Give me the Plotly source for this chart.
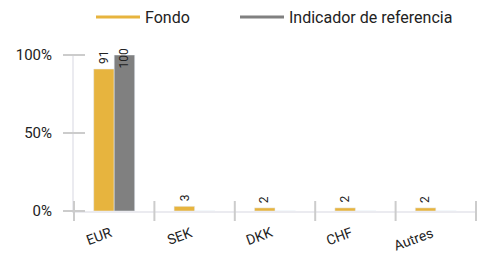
import plotly.graph_objects as go

categories = ["EUR", "SEK", "DKK", "CHF", "Autres"]
fondo = [91, 3, 2, 2, 2]
indicador = [100, 0, 0, 0, 0]
y_ticks = [0, 50, 100]
y_tick_labels = ["0%", "50%", "100%"]
series_names = ["Fondo", "Indicador de referencia"]

ORANGE = "#E7B43E"
GRAY = "#808080"
TXT = "#222222"

# page body adds an 8px offset; figure is sized to fit the 490x259 window
W, H = 482, 251
ML, MR, MT, MB = 66, 14, 47, 48
PW, PH = W - ML - MR, H - MT - MB  # plot area in px
YMAX = 100

fig = go.Figure()
fig.add_trace(go.Bar(x=categories, y=fondo, marker_color=ORANGE, showlegend=False))
fig.add_trace(go.Bar(x=categories, y=indicador, marker_color=GRAY, showlegend=False))
for name, col, lg in zip(series_names, [ORANGE, GRAY], ["legend", "legend2"]):
    fig.add_trace(go.Scatter(x=[None], y=[None], mode="lines", name=name, legend=lg,
                             line=dict(color=col, width=3)))

BARGAP = 0.49
cat_px = PW / len(categories)
bar_px = cat_px * (1 - BARGAP) / 2
annotations = []
LABEL_TOP_LIMIT = 8  # px above plot area
for series, shift in ((fondo, -bar_px / 2), (indicador, bar_px / 2)):
    for cat, v in zip(categories, series):
        if not v:
            continue
        s = str(v)
        gap = 4
        label_h = 6.9 * len(s)
        top_px = v / YMAX * PH + gap + label_h
        if top_px > PH + LABEL_TOP_LIMIT:
            annotations.append(dict(x=cat, y=1 + LABEL_TOP_LIMIT / PH, xref="x", yref="paper",
                                    yanchor="top", xanchor="center", xshift=shift,
                                    text=s, textangle=-90, showarrow=False,
                                    font=dict(size=12, color=TXT), borderpad=0))
        else:
            annotations.append(dict(x=cat, y=v, xref="x", yref="y",
                                    yanchor="bottom", xanchor="center", xshift=shift,
                                    yshift=gap, text=s, textangle=-90, showarrow=False,
                                    font=dict(size=12, color=TXT), borderpad=0))

# category labels, rotated and right-aligned at the category centre
for cat in categories:
    annotations.append(dict(x=cat, y=0, xref="x", yref="paper", xanchor="right",
                            yanchor="top", yshift=-12, xshift=1, text=cat, textangle=-20,
                            showarrow=False, font=dict(size=14, color=TXT), borderpad=0))

shapes = []
n = len(categories)
for k in range(n + 1):
    shapes.append(dict(type="line", xref="paper", yref="paper",
                       x0=k / n, x1=k / n, y0=-10 / PH, y1=10 / PH,
                       line=dict(color="#cccccc", width=2)))
for v in y_ticks:
    yy = v / YMAX
    shapes.append(dict(type="line", xref="paper", yref="paper",
                       x0=-11 / PW, x1=11 / PW, y0=yy, y1=yy,
                       line=dict(color="#cccccc", width=2)))

legend_common = dict(orientation="h", xanchor="left", xref="container",
                     y=1 + 38 / PH, yanchor="middle", yref="paper",
                     font=dict(size=16, color=TXT), itemwidth=44)

fig.update_layout(
    width=W, height=H,
    margin=dict(l=ML, r=MR, t=MT, b=MB, autoexpand=False),
    paper_bgcolor="white", plot_bgcolor="white",
    font=dict(family="Roboto", size=15, color=TXT),
    barmode="group", bargap=BARGAP, bargroupgap=0,
    showlegend=True,
    legend=dict(x=83 / W, **legend_common),
    legend2=dict(x=227 / W, **legend_common),
    xaxis=dict(showline=True, linecolor="#ebebf0", linewidth=2, ticks="",
               showgrid=False, showticklabels=False),
    yaxis=dict(range=[0, YMAX], tickvals=y_ticks, ticktext=y_tick_labels, showgrid=False,
               zeroline=False, showline=True, linecolor="#ebebf0", linewidth=2,
               ticks="", ticklabelstandoff=17, tickfont=dict(size=15, color=TXT)),
    shapes=shapes,
    annotations=annotations,
)
fig.write_html("out.html")
